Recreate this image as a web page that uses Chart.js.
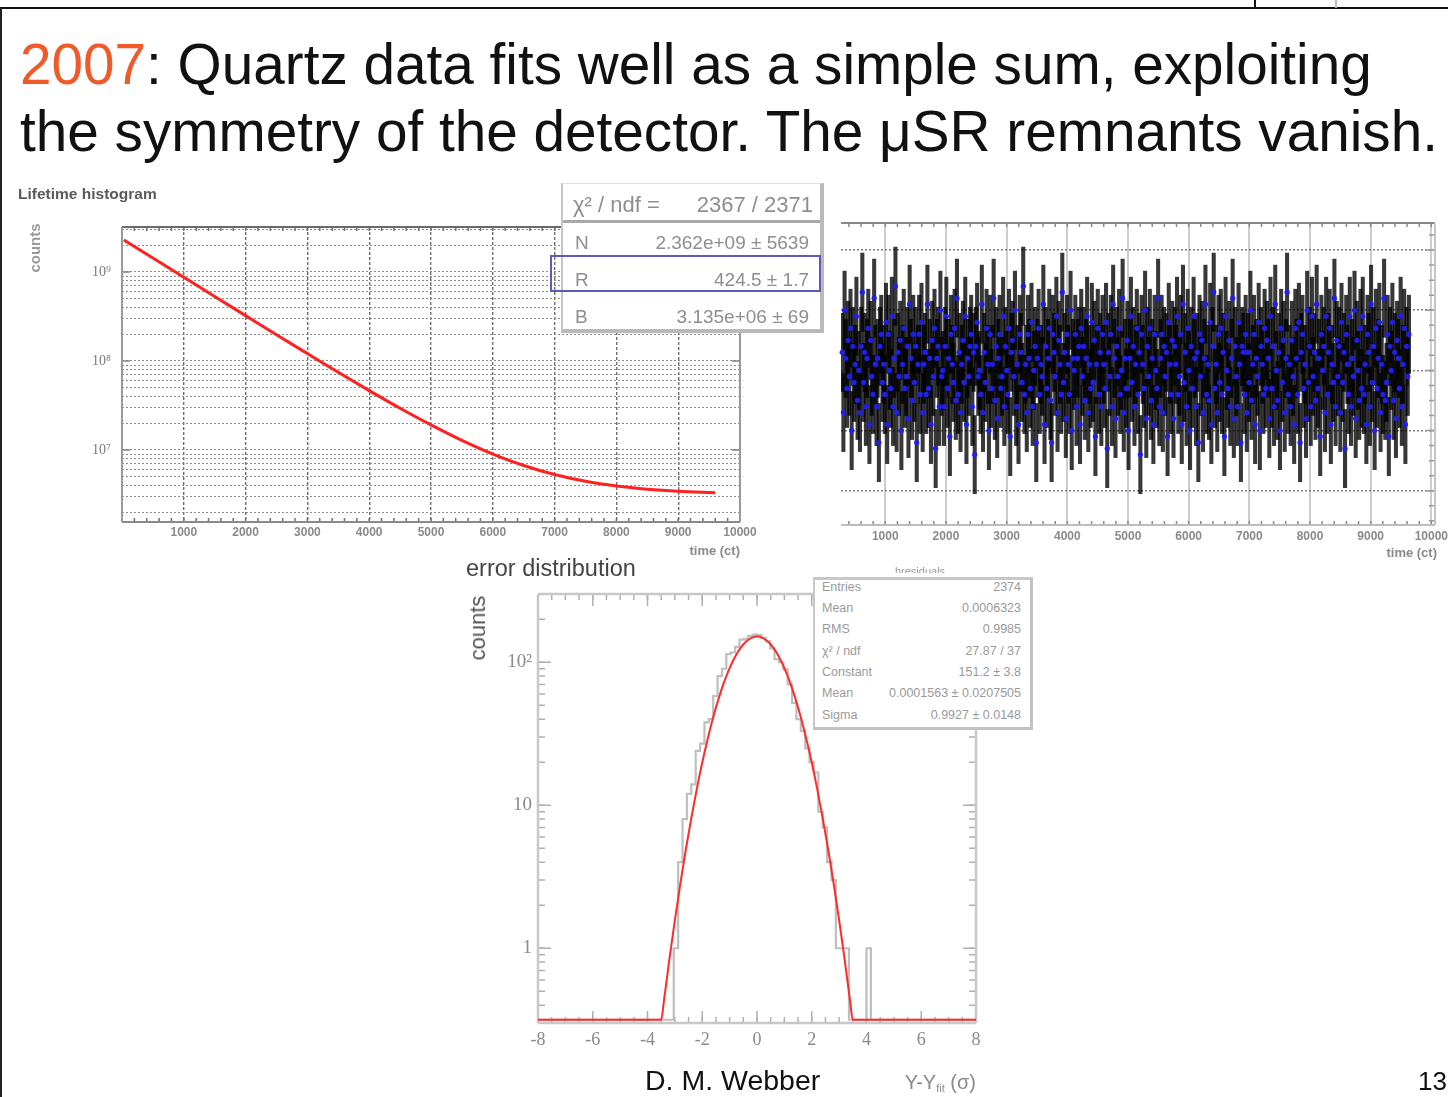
<!DOCTYPE html>
<html>
<head>
<meta charset="utf-8">
<script src="https://cdn.jsdelivr.net/npm/chart.js@4.4.1/dist/chart.umd.min.js"></script>
<style>
  html, body { margin: 0; padding: 0; background: #fff; }
  #page { position: relative; width: 1448px; height: 1097px; overflow: hidden; background: #fff;
          font-family: "Liberation Sans", Arial, sans-serif; }
  #page canvas { position: absolute; left: 0; top: 0; }
  .t { position: absolute; white-space: nowrap; line-height: 1; }
  .box { position: absolute; background: #fff; box-sizing: border-box; }
  .rule { position: absolute; }
</style>
</head>
<body>
<div id="page">
  <div class="rule" style="left:0;top:7px;width:1448px;height:2px;background:#111;"></div>
  <div class="rule" style="left:0;top:8px;width:2px;height:1089px;background:#222;"></div>
  <div class="rule" style="left:1254px;top:0;width:2px;height:8px;background:#111;"></div>
  <div class="rule" style="left:1335px;top:0;width:2px;height:8px;background:#bbb;"></div>
  <canvas id="lifetime" width="1448" height="1097"></canvas>
  <canvas id="residuals" width="1448" height="1097"></canvas>
  <canvas id="errdist" width="1448" height="1097"></canvas>
</div>
<script>
// ---------------- lifetime histogram: fitted curve N*exp(-t/tau)+B ----------------
const lifeTime = [30, 500, 1000, 1500, 2000, 2500, 3000, 3500, 4000, 4500, 5000,
                  5500, 6000, 6500, 7000, 7500, 8000, 8500, 9000, 9600];
const lifeCounts = [2.29e9, 1.436e9, 8.72e8, 5.30e8, 3.23e8, 1.97e8, 1.21e8, 7.45e7, 4.64e7, 2.94e7, 1.91e7,
                    1.28e7, 8.99e6, 6.69e6, 5.29e6, 4.44e6, 3.93e6, 3.62e6, 3.43e6, 3.30e6];
const lifeTimeTicks = [1000, 2000, 3000, 4000, 5000, 6000, 7000, 8000, 9000, 10000];
const lifeDecades = [1e7, 1e8, 1e9];
const lifeDecadeLabels = ['10\u2077', '10\u2078', '10\u2079'];

// ---------------- residuals vs time, one value per time bin ----------------
const resStart = 290;      // centre of first bin (ct)
const resBinWidth = 19.5;  // ct per bin
const residuals = [
  0.3,-0.7,1.0,0.2,-0.3,0.5,-0.1,0.7,-1.0,0.4,-0.2,0.1,0.9,-0.5,0.0,-0.7,0.4,1.3,-0.2,0.3,
  -0.6,0.2,0.7,-0.9,0.5,-0.1,-0.4,1.2,0.1,-0.6,0.2,-1.2,0.4,0.6,-0.2,0.1,-0.4,0.8,-0.9,0.6,
  0.0,-0.3,0.9,-0.6,0.2,1.4,-0.7,0.3,-0.1,0.5,-1.0,0.1,0.7,-0.3,-0.1,0.4,-0.8,1.1,0.2,-0.5,
  0.6,-0.2,0.4,-1.2,0.1,0.6,-0.4,0.8,-0.7,0.1,0.3,-0.4,1.1,-0.3,0.2,-0.9,0.5,-0.1,0.7,-1.3,
  0.2,0.4,-0.6,1.0,-0.1,0.0,-0.6,0.4,0.9,-0.3,0.2,-1.1,0.6,0.1,-0.2,0.7,-0.5,1.2,-0.4,0.3,
  -0.7,0.1,0.5,-0.2,0.9,-0.9,0.2,-0.1,0.4,0.6,-0.6,0.3,-1.4,0.4,0.8,-0.1,0.0,-0.4,1.1,-0.7,
  0.3,-0.2,0.7,0.1,-1.0,0.6,-0.3,0.1,1.2,-0.5,0.4,-0.8,0.2,0.6,-0.3,-0.1,0.9,-0.6,0.4,0.0,
  -0.4,0.7,-1.1,0.3,0.5,-0.1,1.0,-0.6,0.1,-0.9,0.6,0.3,-0.2,1.4,-0.4,0.1,-0.7,0.6,0.2,-0.3,
  0.8,-0.6,0.0,0.4,-1.2,0.2,0.7,-0.4,0.1,-0.1,1.1,-0.9,0.4,-0.3,0.2,0.7,-0.5,-1.2,0.6,0.3,
  -0.1,0.9,-0.7,0.5,0.1,-0.4,1.3,-0.2,0.3,-0.8,0.6,0.1,-0.4,1.0,-1.0,0.2,0.0,0.6,-0.6,0.2,
  0.4,-0.9,0.7,-0.1,0.4,-0.5,0.2,0.9,-0.7,0.1,-0.3,0.8,-0.2,0.5,-1.1,0.1,0.7,-0.4,0.3,-0.6,
  0.6,0.1,-0.3,0.8,-1.3,0.3,-0.1,0.6,-0.6,1.1,0.2,-0.8,0.4,-0.1,0.7,-0.4,0.0,1.2,-0.7,0.2,
  -0.3,0.5,-1.0,0.2,0.9,-0.2,0.4,-0.6,0.1,0.7,-0.4,0.3,-1.4,0.6,0.1,-0.3,1.0,-0.8,0.4,-0.1,
  0.7,-0.5,0.2,-0.9,0.6,0.0,-0.3,1.2,-0.6,0.2,0.6,-0.7,0.4,-0.1,0.3,-1.1,0.8,0.1,-0.4,0.5,
  -0.8,0.4,0.1,0.9,-0.4,-0.1,0.6,-0.9,1.1,-0.2,0.3,-0.6,0.7,0.0,-1.0,0.4,-0.3,0.9,0.2,-0.6,
  0.3,-1.2,0.6,-0.1,0.5,-0.7,0.2,1.1,-0.4,0.1,-0.5,0.8,-0.9,0.4,1.3,-0.3,0.1,-0.7,0.6,-0.2,
  0.7,-0.4,0.3,-1.1,0.9,0.0,-0.3,0.5,-0.6,0.2,1.2,-0.8,0.4,-0.1,-0.6,0.8,0.1,-1.2,0.4,0.3,
  -0.4,0.6,-0.7,0.3,-0.2,1.0,-0.5,0.1,0.6,-0.9,0.2,-0.1,0.8,-1.0,0.4,0.1,-0.4,0.7,-0.3,0.5,
  0.2,-0.8,0.9,-0.3,0.4,-0.6,1.1,0.0,-0.5,0.3,-1.0,0.7,-0.2,0.5,-0.7,0.2,1.3,-0.4,0.1,-0.6,
  0.5,-0.1,-0.9,0.7,0.2,-0.4,0.8,-1.2,0.3,0.6,-0.3,0.1,-0.8,1.0,-0.2,0.4,-0.6,0.9,-0.1,0.3,
  -0.5,1.1,-0.3,0.2,-1.1,0.6,0.0,0.4,-0.7,0.9,-0.4,0.3,0.7,-0.9,0.1,-0.2,1.2,-0.6,0.5,-0.1,
  0.4,-0.7,0.8,-0.2,0.3,-1.3,0.6,0.1,-0.4,0.9,-0.6,0.2,-0.1,1.0,-0.8,0.5,0.0,-0.5,0.7,-0.3,
  0.9,-0.4,0.1,-0.9,0.6,0.3,-0.6,1.1,-0.2,0.4,-1.0,0.7,-0.3,0.2,0.8,-0.7,0.1,-0.4,1.2,-0.5,
  -0.2,0.6,-1.1,0.4,0.0,0.8,-0.5,0.3,-0.8,0.5,0.2,-0.3,0.9,-0.6,0.1,0.7,-0.9,0.4,-0.1,0.6
];
const residualError = 0.65;  // half-length of each bin's error bar
const resTimeTicks = [1000, 2000, 3000, 4000, 5000, 6000, 7000, 8000, 9000, 10000];
const resLevels = [-2, -1, 0, 1, 2];

// ---------------- error distribution: 100 bins of 0.16 sigma from -8 to 8 ----------------
const errBinLow = -8;
const errBinWidth = 0.16;
const errCounts = [
  0,0,0,0,0,0,0,0,0,0, 0,0,0,0,0,0,0,0,0,0, 0,0,0,0,0,0,0,0,0,0,
  0,1,4,8,12,14,24,27,38,40, 58,80,90,114,117,128,144,146,152,156,
  155,148,140,125,105,100,89,70,52,40, 33,25,20,17,9,7,4,3,1,1,
  1,0,0,0,0,1,0,0,0,0, 0,0,0,0,0,0,0,0,0,0, 0,0,0,0,0,0,0,0,0,0
];
// Gaussian fit (Constant 151.2, Sigma 0.9927)
const errFitX = [-8, -3.5, -3.4, -3.2, -3.0, -2.8, -2.6, -2.4, -2.2, -2.0, -1.8, -1.6, -1.4, -1.2, -1.0,
                 -0.8, -0.6, -0.4, -0.2, 0, 0.2, 0.4, 0.6, 0.8, 1.0, 1.2, 1.4, 1.6, 1.8, 2.0, 2.2, 2.4,
                 2.6, 2.8, 3.0, 3.2, 3.4, 3.5, 8];
const errFitY = [0.316, 0.316, 0.428, 0.838, 1.57, 2.83, 4.90, 8.13, 12.97, 19.9, 29.2, 41.2, 55.9, 72.8, 91.0,
                 109.3, 125.9, 139.4, 148.2, 151.2, 148.2, 139.4, 125.9, 109.3, 91.0, 72.8, 55.9, 41.2, 29.2, 19.9,
                 12.97, 8.13, 4.90, 2.83, 1.57, 0.838, 0.428, 0.316, 0.316];
const errTicks = [-8, -6, -4, -2, 0, 2, 4, 6, 8];
const errDecades = [1, 10, 100];
const errDecadeLabels = ['1', '10', '10\u00B2'];

// ---------------- helpers ----------------
const W = 1448, H = 1097;
const SANS = '"Liberation Sans", Arial, sans-serif';
const SERIF = '"Liberation Serif", "Times New Roman", serif';
const page = document.getElementById('page');

function steps(a, b, s) { const out = []; for (let v = a; v <= b + 1e-9; v += s) out.push(Math.round(v * 1000) / 1000); return out; }
function logMinor(lo, hi) {
  const out = [];
  for (let e = Math.floor(Math.log10(lo)); e <= Math.ceil(Math.log10(hi)); e++) {
    for (let d = 1; d <= 9; d++) { const v = d * Math.pow(10, e); if (v >= lo && v <= hi) out.push(v); }
  }
  return out;
}
function decadeLabel(v, decades, labels) {
  for (let i = 0; i < decades.length; i++) if (Math.abs(v - decades[i]) / decades[i] < 1e-9) return labels[i];
  return '';
}

// text placed by baseline
function text(html, x, base, o) {
  const el = document.createElement('div');
  el.className = 't';
  const serif = !!o.serif;
  const asc = serif ? 0.8375 : 0.8465;
  el.style.fontSize = o.size + 'px';
  el.style.fontFamily = serif ? SERIF : SANS;
  el.style.color = o.color || '#000';
  el.style.fontWeight = o.weight || 'normal';
  if (o.spacing) el.style.letterSpacing = o.spacing + 'px';
  el.style.left = x + 'px';
  el.style.top = (base - asc * o.size) + 'px';
  if (o.align === 'right') el.style.transform = 'translateX(-100%)';
  if (o.align === 'center') el.style.transform = 'translateX(-50%)';
  el.innerHTML = html;
  (o.parent || page).appendChild(el);
  return el;
}
function vtext(str, cx, cy, o) {
  const el = document.createElement('div');
  el.className = 't';
  el.style.fontSize = o.size + 'px';
  el.style.fontFamily = SANS;
  el.style.color = o.color || '#000';
  el.style.fontWeight = o.weight || 'normal';
  el.style.left = cx + 'px';
  el.style.top = cy + 'px';
  el.style.transform = 'translate(-50%,-50%) rotate(-90deg)';
  el.textContent = str;
  page.appendChild(el);
}
function box(l, t, w, h, css) {
  const el = document.createElement('div');
  el.className = 'box';
  el.style.cssText += `left:${l}px;top:${t}px;width:${w}px;height:${h}px;` + css;
  page.appendChild(el);
  return el;
}

// frame and inside tick marks drawn through the chart's scales
function framePlugin(cfg) {
  return {
    id: 'frame',
    beforeDatasetsDraw(chart) {
      const { ctx, chartArea: a } = chart;
      ctx.save();
      for (const m of cfg.marks) {
        const sc = chart.scales[m.axis];
        ctx.strokeStyle = m.color; ctx.lineWidth = m.width || 1;
        ctx.beginPath();
        for (const v of m.values) {
          const p = sc.getPixelForValue(v);
          if (m.axis === 'x') {
            if (p < a.left + 1 || p > a.right - 1) continue;
            if (m.sides.includes('bottom')) { ctx.moveTo(p, a.bottom); ctx.lineTo(p, a.bottom - m.len); }
            if (m.sides.includes('top')) { ctx.moveTo(p, a.top); ctx.lineTo(p, a.top + m.len); }
          } else {
            if (p < a.top + 1 || p > a.bottom - 1) continue;
            if (m.sides.includes('left')) { ctx.moveTo(a.left, p); ctx.lineTo(a.left + m.len, p); }
            if (m.sides.includes('right')) { ctx.moveTo(a.right, p); ctx.lineTo(a.right - m.len, p); }
          }
        }
        ctx.stroke();
      }
      for (const f of cfg.frame) {
        ctx.strokeStyle = f.color; ctx.lineWidth = f.width;
        ctx.beginPath();
        if (f.side === 'top') { ctx.moveTo(a.left, a.top); ctx.lineTo(a.right, a.top); }
        if (f.side === 'bottom') { ctx.moveTo(a.left, a.bottom); ctx.lineTo(a.right, a.bottom); }
        if (f.side === 'left') { ctx.moveTo(a.left, a.top); ctx.lineTo(a.left, a.bottom); }
        if (f.side === 'right') { ctx.moveTo(a.right, a.top); ctx.lineTo(a.right, a.bottom); }
        ctx.stroke();
      }
      ctx.restore();
    }
  };
}

// pins the plot area of a full-page canvas to the given box
function area(l, t, r, b, yW, xH) {
  return { left: l - yW, top: t, right: W - r, bottom: H - b - xH };
}
function fixX(h) { return s => { s.height = h; s.paddingLeft = 0; s.paddingRight = 0; }; }
function fixY(w) { return s => { s.width = w; s.paddingTop = 0; s.paddingBottom = 0; }; }

const base = { responsive: false, animation: false, devicePixelRatio: 1, events: [] };
const noPlug = { legend: { display: false }, tooltip: { enabled: false } };
const tickFontSans = { family: SANS, size: 12, weight: 'bold' };

// ---------------- chart 1: lifetime histogram ----------------
const lifeYMin = 1.55e6, lifeYMax = 3.2e9;
new Chart(document.getElementById('lifetime'), {
  type: 'line',
  data: { datasets: [{
    data: lifeTime.map((t, i) => ({ x: t, y: lifeCounts[i] })),
    borderColor: '#ff2020', borderWidth: 3, pointRadius: 0,
    cubicInterpolationMode: 'monotone', clip: 3
  }] },
  options: {
    ...base,
    layout: { padding: area(122, 227, 740, 522, 60, 40), autoPadding: false },
    plugins: noPlug,
    scales: {
      x: {
        type: 'linear', min: 0, max: 10000, afterFit: fixX(40),
        afterBuildTicks: s => { s.ticks = [0, ...lifeTimeTicks].map(v => ({ value: v })); },
        ticks: { autoSkip: false, maxRotation: 0, padding: 3, font: tickFontSans, color: '#8a8a8a',
                 callback: v => (v === 0 ? '' : String(v)) },
        grid: { color: '#6f6f6f', lineWidth: 1.4, drawTicks: false },
        border: { display: false, dash: [3, 2] }
      },
      y: {
        type: 'logarithmic', min: lifeYMin, max: lifeYMax, afterFit: fixY(60),
        afterBuildTicks: s => { s.ticks = logMinor(lifeYMin, lifeYMax).map(v => ({ value: v })); },
        ticks: { autoSkip: false, padding: 11, font: { family: SERIF, size: 14 }, color: '#7a7a7a',
                 callback: v => decadeLabel(v, lifeDecades, lifeDecadeLabels) },
        grid: { color: '#8c8c8c', lineWidth: 1, drawTicks: false },
        border: { display: false, dash: [2, 2] }
      }
    }
  },
  plugins: [framePlugin({
    marks: [
      { axis: 'x', values: steps(0, 10000, 200), len: 4, sides: ['top', 'bottom'], color: '#707070', width: 1.5 },
      { axis: 'y', values: lifeDecades, len: 8, sides: ['left', 'right'], color: '#808080', width: 1.5 }
    ],
    frame: [
      { side: 'top', color: '#6a6a6a', width: 2 }, { side: 'bottom', color: '#8a8a8a', width: 2 },
      { side: 'left', color: '#999', width: 2 }, { side: 'right', color: '#999', width: 2 }
    ]
  })]
});

// ---------------- chart 2: residuals ----------------
const resTimes = residuals.map((v, i) => resStart + resBinWidth * i);
new Chart(document.getElementById('residuals'), {
  type: 'line',
  data: { datasets: [
    {
      type: 'line', order: 1,
      data: residuals.map((v, i) => ({ x: resTimes[i], y: v })),
      showLine: false, pointRadius: 2.6, pointBackgroundColor: '#1f1fe8', pointBorderWidth: 0, clip: 2
    },
    {
      type: 'bar', order: 2,
      data: residuals.map((v, i) => ({ x: resTimes[i], y: [v - residualError, v + residualError] })),
      backgroundColor: 'rgba(0,0,0,0.78)', borderWidth: 0, barThickness: 3.4, grouped: false
    }
  ] },
  options: {
    ...base,
    layout: { padding: area(841, 223, 1435, 525, 20, 40), autoPadding: false },
    plugins: noPlug,
    scales: {
      x: {
        type: 'linear', min: 270, max: 10060, offset: false, afterFit: fixX(40),
        afterBuildTicks: s => { s.ticks = resTimeTicks.map(v => ({ value: v })); },
        ticks: { autoSkip: false, maxRotation: 0, padding: 4, font: tickFontSans, color: '#8a8a8a',
                 callback: v => String(v) },
        grid: { color: '#cdcdcd', lineWidth: 2, drawTicks: false, offset: false },
        border: { display: false }
      },
      y: {
        type: 'linear', min: -2.57, max: 2.45, afterFit: fixY(20),
        afterBuildTicks: s => { s.ticks = resLevels.map(v => ({ value: v })); },
        ticks: { display: false },
        grid: { color: '#7a7a7a', lineWidth: 1.5, drawTicks: false },
        border: { display: false, dash: [2, 2] }
      }
    }
  },
  plugins: [framePlugin({
    marks: [
      { axis: 'x', values: steps(400, 10000, 200), len: 4, sides: ['top', 'bottom'], color: '#8a8a8a', width: 1.5 },
      { axis: 'y', values: steps(-2.5, 2.25, 0.25), len: 6, sides: ['right'], color: '#9a9a9a', width: 1.5 },
      { axis: 'y', values: resLevels, len: 10, sides: ['right'], color: '#9a9a9a', width: 1.5 }
    ],
    frame: [
      { side: 'top', color: '#888', width: 2 }, { side: 'bottom', color: '#bdbdbd', width: 2 },
      { side: 'right', color: '#c4c4c4', width: 2 }
    ]
  })]
});

// ---------------- chart 3: error distribution ----------------
const errYMin = 0.316, errYMax = 300;
const histPts = [];
errCounts.forEach((c, k) => {
  const lo = errBinLow + errBinWidth * k, hi = lo + errBinWidth;
  const y = c > 0 ? c : errYMin;
  histPts.push({ x: lo, y }, { x: hi, y });
});
new Chart(document.getElementById('errdist'), {
  type: 'line',
  data: { datasets: [
    { order: 2, data: histPts, borderColor: '#bfbfbf', borderWidth: 2.2, pointRadius: 0, tension: 0, clip: 3 },
    { order: 1, data: errFitX.map((x, i) => ({ x, y: errFitY[i] })), borderColor: '#ff2b2b', borderWidth: 2,
      pointRadius: 0, cubicInterpolationMode: 'monotone', clip: 3 }
  ] },
  options: {
    ...base,
    layout: { padding: area(538, 594, 976, 1023, 60, 40), autoPadding: false },
    plugins: noPlug,
    scales: {
      x: {
        type: 'linear', min: -8, max: 8, afterFit: fixX(40),
        afterBuildTicks: s => { s.ticks = errTicks.map(v => ({ value: v })); },
        ticks: { autoSkip: false, maxRotation: 0, padding: 6, font: { family: SERIF, size: 18 }, color: '#8a8a8a',
                 callback: v => String(v) },
        grid: { display: false, drawTicks: false }, border: { display: false }
      },
      y: {
        type: 'logarithmic', min: errYMin, max: errYMax, afterFit: fixY(60),
        afterBuildTicks: s => { s.ticks = errDecades.map(v => ({ value: v })); },
        ticks: { autoSkip: false, padding: 6, font: { family: SERIF, size: 19 }, color: '#8a8a8a',
                 callback: v => decadeLabel(v, errDecades, errDecadeLabels) },
        grid: { display: false, drawTicks: false }, border: { display: false }
      }
    }
  },
  plugins: [framePlugin({
    marks: [
      { axis: 'x', values: steps(-8, 8, 0.5), len: 6, sides: ['top', 'bottom'], color: '#b0b0b0', width: 1.5 },
      { axis: 'x', values: errTicks, len: 12, sides: ['top', 'bottom'], color: '#b0b0b0', width: 1.5 },
      { axis: 'y', values: logMinor(errYMin, errYMax), len: 7, sides: ['left', 'right'], color: '#b0b0b0', width: 1.5 },
      { axis: 'y', values: errDecades, len: 13, sides: ['left', 'right'], color: '#b0b0b0', width: 1.5 }
    ],
    frame: [
      { side: 'top', color: '#c8c8c8', width: 2.5 }, { side: 'bottom', color: '#c8c8c8', width: 2.5 },
      { side: 'left', color: '#c8c8c8', width: 2.5 }, { side: 'right', color: '#c8c8c8', width: 2.5 }
    ]
  })]
});

// ---------------- slide text ----------------
text('<span style="color:#f05a28">2007</span>: Quartz data fits well as a simple sum, exploiting', 20, 85, { size: 56.7, color: '#111' });
text('the symmetry of the detector. The \u03BCSR remnants vanish.', 20, 152, { size: 56.7, color: '#111' });

// lifetime panel labels
text('Lifetime histogram', 18, 199, { size: 15.5, weight: 'bold', color: '#5a5a5a' });
vtext('counts', 34, 248, { size: 15, weight: 'bold', color: '#9a9a9a' });
text('time (ct)', 740, 555, { size: 13, weight: 'bold', color: '#8a8a8a', align: 'right' });

// lifetime fit statistics
box(561, 183, 263, 150, 'border-left:2px solid #c6c6c6;border-top:1px solid #e2e2e2;border-right:4px solid #b9b9b9;border-bottom:4px solid #b9b9b9;');
box(563, 220, 257, 3, 'background:#a9a9a9;');
box(550, 255, 271, 37, 'background:transparent;border:2px solid #5c5cb8;');
const sCol = '#8e8e8e';
text('\u03C7\u00B2 / ndf =', 573, 213, { size: 22, color: sCol });
text('2367 / 2371', 813, 213, { size: 22, color: sCol, align: 'right' });
text('N', 575, 249, { size: 19, color: sCol });
text('2.362e+09 \u00B1 5639', 809, 249, { size: 19, color: sCol, align: 'right' });
text('R', 575, 286, { size: 19, color: sCol });
text('424.5 \u00B1 1.7', 809, 286, { size: 19, color: sCol, align: 'right' });
text('B', 575, 323, { size: 19, color: sCol });
text('3.135e+06 \u00B1 69', 809, 323, { size: 19, color: sCol, align: 'right' });

// residual panel label
text('time (ct)', 1437, 557, { size: 13, weight: 'bold', color: '#8a8a8a', align: 'right' });

// error distribution labels
text('error distribution', 466, 577, { size: 23.5, color: '#444' });
vtext('counts', 478, 628, { size: 22, color: '#555' });
text('Y-Y<sub style="font-size:11px;vertical-align:-3px">fit</sub> (\u03C3)', 976, 1089, { size: 20, color: '#8a8a8a', align: 'right' });

// error distribution statistics
const clip = box(860, 567, 120, 6, 'overflow:hidden;background:transparent;');
text('hresiduals', 60, 8, { size: 11, color: '#999', align: 'center', parent: clip });
box(813, 577, 220, 153, 'border-left:2px solid #c8c8c8;border-top:3px solid #c8c8c8;border-right:3px solid #c2c2c2;border-bottom:3px solid #c2c2c2;');
const rows = [
  ['Entries', '2374', 591.5], ['Mean', '0.0006323', 612.5], ['RMS', '0.9985', 634],
  ['\u03C7\u00B2 / ndf', '27.87 / 37', 655.5], ['Constant', '151.2 \u00B1 3.8', 676.5],
  ['Mean', '0.0001563 \u00B1 0.0207505', 698], ['Sigma', '0.9927 \u00B1 0.0148', 720]
];
for (const [k, v, y] of rows) {
  text(k, 822, y, { size: 12.5, color: '#9a9a9a' });
  text(v, 1021, y, { size: 12.5, color: '#9a9a9a', align: 'right' });
}

// footer
text('D. M. Webber', 645, 1090, { size: 28.5, color: '#111' });
text('13', 1418, 1090, { size: 26, color: '#111' });
</script>
</body>
</html>
